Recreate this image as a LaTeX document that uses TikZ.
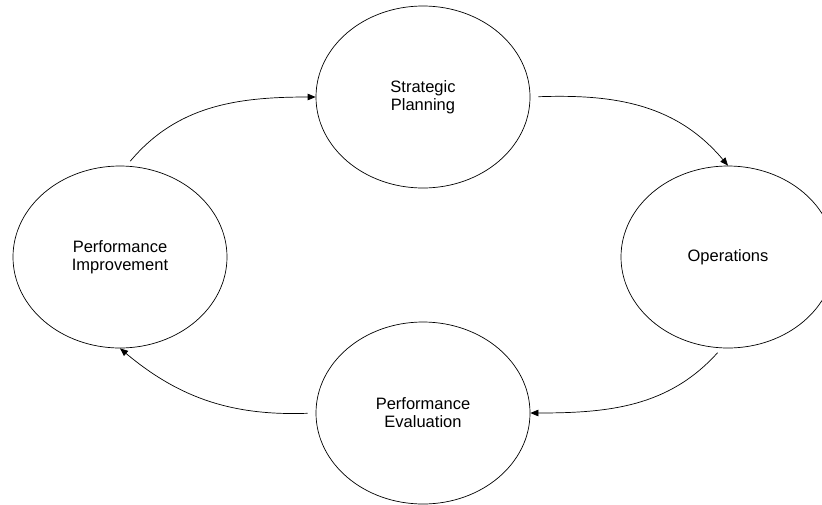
\documentclass[tikz,border=0pt]{standalone}
\usepackage{fontspec}
\setmainfont{Liberation Sans}
\usetikzlibrary{arrows.meta,shapes.geometric}
\tikzset{
  stage/.style={ellipse, draw=black, line width=0.7pt, minimum width=214pt, minimum height=182pt,
                inner sep=0pt, align=center, font=\fontsize{16.5}{18}\selectfont},
  flow/.style={-{Triangle[length=8pt, width=6.5pt]}, line width=0.7pt, black},
}

\begin{document}
\begin{tikzpicture}[x=1pt,y=1pt]
\useasboundingbox (0,0) rectangle (822,-504);
\node[stage] (plan) at (423,-97) {Strategic\\Planning};
\node[stage] (ops) at (728,-257) {Operations};
\node[stage] (eval) at (423,-413) {Performance\\Evaluation};
\node[stage] (impr) at (120,-257) {Performance\\Improvement};
\draw[flow, shorten <=6pt] (impr.86) to[out=50, in=180] (plan.west);
\draw[flow, shorten <=8pt] (plan.east) to[out=2, in=130] (ops.north);
\draw[flow, shorten <=6pt] (ops.266) to[out=228, in=0] (eval.east);
\draw[flow, shorten <=8pt] (eval.west) to[out=182, in=-40] (impr.south);
\end{tikzpicture}
\end{document}
